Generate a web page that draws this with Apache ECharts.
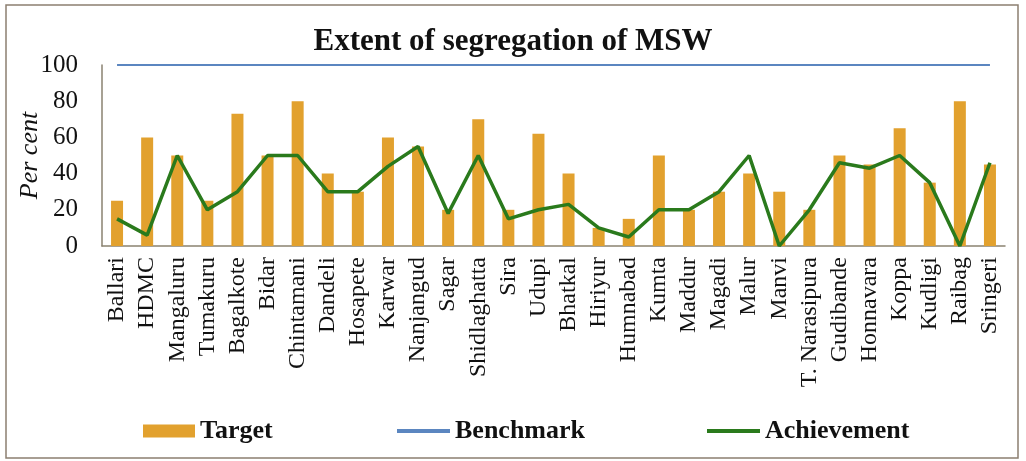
<!DOCTYPE html>
<html>
<head>
<meta charset="utf-8">
<script src="https://cdn.jsdelivr.net/npm/echarts@6/dist/echarts.min.js"></script>
<style>
  html, body { margin: 0; padding: 0; background: #ffffff; }
  #chart { width: 1026px; height: 461px; }
</style>
</head>
<body>
<div id="chart"></div>
<script>
const SERIF = '"Liberation Serif", "Times New Roman", serif';

const cities = [
  'Ballari', 'HDMC', 'Mangaluru', 'Tumakuru', 'Bagalkote', 'Bidar', 'Chintamani', 'Dandeli',
  'Hosapete', 'Karwar', 'Nanjangud', 'Sagar', 'Shidlaghatta', 'Sira', 'Udupi', 'Bhatkal',
  'Hiriyur', 'Humnabad', 'Kumta', 'Maddur', 'Magadi', 'Malur', 'Manvi', 'T. Narasipura',
  'Gudibande', 'Honnavara', 'Koppa', 'Kudligi', 'Raibag', 'Sringeri'
];
const target = [25, 60, 50, 25, 73, 50, 80, 40, 30, 60, 55, 20, 70, 20, 62, 40, 10, 15, 50, 20, 30, 40, 30, 20, 50, 45, 65, 35, 80, 45];
const benchmark = [100, 100, 100, 100, 100, 100, 100, 100, 100, 100, 100, 100, 100, 100, 100, 100, 100, 100, 100, 100, 100, 100, 100, 100, 100, 100, 100, 100, 100, 100];
const achievement = [15, 6, 50, 20, 30, 50, 50, 30, 30, 44, 55, 18, 50, 15, 20, 23, 10, 5, 20, 20, 30, 50, 0, 20, 46, 43, 50, 35, 0, 46];
const yTicks = [0, 20, 40, 60, 80, 100];

const chart = echarts.init(document.getElementById('chart'));

const legendText = { fontFamily: SERIF, fontWeight: 'bold', fontSize: 26, color: '#111' };

chart.setOption({
  animation: false,
  backgroundColor: '#ffffff',
  title: {
    text: 'Extent of segregation of MSW',
    left: 'center',
    top: 21,
    textStyle: { fontFamily: SERIF, fontWeight: 'bold', fontSize: 31, color: '#111' }
  },
  graphic: [
    {
      type: 'rect',
      shape: { x: 6, y: 5, width: 1012, height: 453 },
      style: { fill: 'none', stroke: '#8c7f70', lineWidth: 1.5 },
      silent: true
    }
  ],
  legend: [
    { data: [{ name: 'Target', icon: 'rect' }], left: 138, top: 413, itemWidth: 52, itemHeight: 13, textStyle: legendText },
    { data: [{ name: 'Benchmark', icon: 'rect' }], left: 392, top: 413, itemWidth: 53, itemHeight: 4, textStyle: legendText },
    { data: [{ name: 'Achievement', icon: 'rect' }], left: 702, top: 413, itemWidth: 53, itemHeight: 4, textStyle: legendText }
  ],
  grid: { left: 102, right: 21, top: 65, bottom: 215, containLabel: false, outerBoundsMode: 'none' },
  xAxis: {
    type: 'category',
    data: cities,
    axisTick: { show: false },
    axisLine: { lineStyle: { color: '#8a8270', width: 1.5 } },
    axisLabel: {
      rotate: 90,
      interval: 0,
      margin: 11,
      fontFamily: SERIF,
      fontSize: 24,
      color: '#111'
    }
  },
  yAxis: {
    type: 'value',
    min: yTicks[0],
    max: yTicks[yTicks.length - 1],
    interval: 20,
    name: 'Per cent',
    nameLocation: 'middle',
    nameGap: 59,
    nameMoveOverlap: false,
    nameTextStyle: { fontFamily: SERIF, fontStyle: 'italic', fontSize: 26, color: '#111' },
    axisLine: { show: true, lineStyle: { color: '#8a8270', width: 1.5 } },
    axisTick: { show: false },
    splitLine: { show: false },
    axisLabel: { margin: 24, fontFamily: SERIF, fontSize: 25, color: '#111' }
  },
  series: [
    {
      name: 'Target',
      type: 'bar',
      data: target,
      barWidth: 12,
      itemStyle: { color: '#E2A12E' }
    },
    {
      name: 'Benchmark',
      type: 'line',
      data: benchmark,
      showSymbol: false,
      symbol: 'none',
      lineStyle: { color: '#5B86C0', width: 2 },
      itemStyle: { color: '#5B86C0' }
    },
    {
      name: 'Achievement',
      type: 'line',
      data: achievement,
      showSymbol: false,
      symbol: 'none',
      lineStyle: { color: '#2A7A1C', width: 3.5 },
      itemStyle: { color: '#2A7A1C' }
    }
  ]
});
</script>
</body>
</html>
